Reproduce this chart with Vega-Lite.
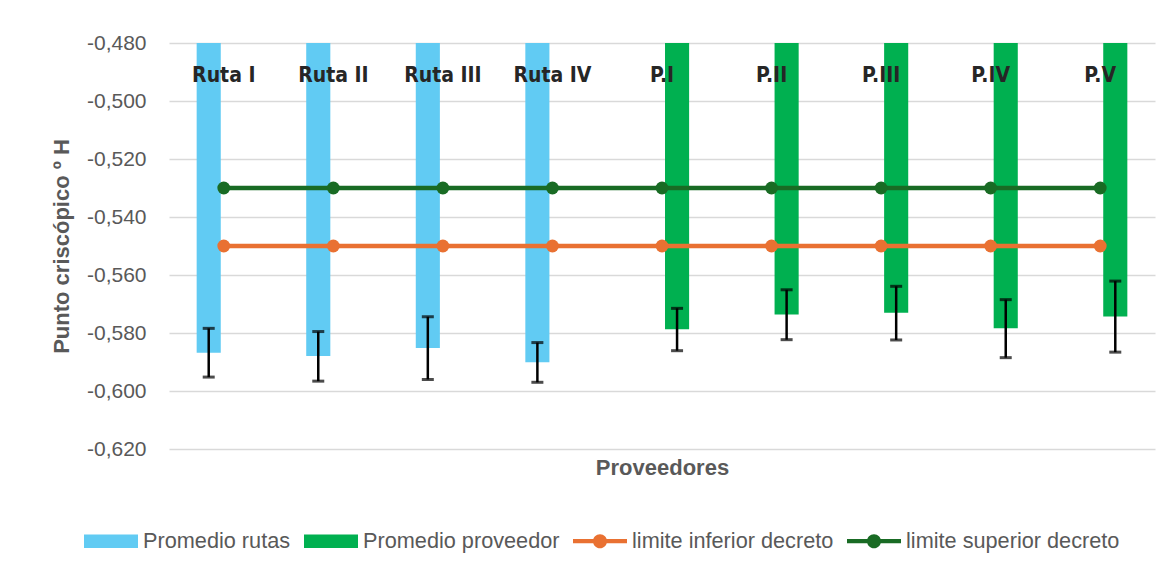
{
  "$schema": "https://vega.github.io/schema/vega-lite/v6.json",
  "width": 986,
  "height": 406,
  "padding": {"left": 50, "top": 32, "right": 5, "bottom": 5},
  "background": "white",
  "config": {
    "view": {"stroke": null},
    "font": "Liberation Sans",
    "axis": {"titleColor": "#595959", "labelColor": "#595959", "titleFont": "Liberation Sans", "labelFont": "Liberation Sans"}
  },
  "datasets": {
    "bars": [
      {"cat": "Ruta I", "serie": "Promedio rutas", "valor": -0.5868, "lo": -0.5952, "hi": -0.5784},
      {"cat": "Ruta II", "serie": "Promedio rutas", "valor": -0.5879, "lo": -0.5966, "hi": -0.5795},
      {"cat": "Ruta III", "serie": "Promedio rutas", "valor": -0.5852, "lo": -0.5960, "hi": -0.5744},
      {"cat": "Ruta IV", "serie": "Promedio rutas", "valor": -0.5901, "lo": -0.5970, "hi": -0.5833},
      {"cat": "P.I", "serie": "Promedio proveedor", "valor": -0.5787, "lo": -0.5861, "hi": -0.5715},
      {"cat": "P.II", "serie": "Promedio proveedor", "valor": -0.5736, "lo": -0.5823, "hi": -0.5651},
      {"cat": "P.III", "serie": "Promedio proveedor", "valor": -0.5730, "lo": -0.5824, "hi": -0.5639},
      {"cat": "P.IV", "serie": "Promedio proveedor", "valor": -0.5784, "lo": -0.5885, "hi": -0.5685},
      {"cat": "P.V", "serie": "Promedio proveedor", "valor": -0.5743, "lo": -0.5866, "hi": -0.5621}
    ],
    "lines": [
      {"cat": "Ruta I", "serie": "limite inferior decreto", "valor": -0.55},
      {"cat": "Ruta II", "serie": "limite inferior decreto", "valor": -0.55},
      {"cat": "Ruta III", "serie": "limite inferior decreto", "valor": -0.55},
      {"cat": "Ruta IV", "serie": "limite inferior decreto", "valor": -0.55},
      {"cat": "P.I", "serie": "limite inferior decreto", "valor": -0.55},
      {"cat": "P.II", "serie": "limite inferior decreto", "valor": -0.55},
      {"cat": "P.III", "serie": "limite inferior decreto", "valor": -0.55},
      {"cat": "P.IV", "serie": "limite inferior decreto", "valor": -0.55},
      {"cat": "P.V", "serie": "limite inferior decreto", "valor": -0.55},
      {"cat": "Ruta I", "serie": "limite superior decreto", "valor": -0.53},
      {"cat": "Ruta II", "serie": "limite superior decreto", "valor": -0.53},
      {"cat": "Ruta III", "serie": "limite superior decreto", "valor": -0.53},
      {"cat": "Ruta IV", "serie": "limite superior decreto", "valor": -0.53},
      {"cat": "P.I", "serie": "limite superior decreto", "valor": -0.53},
      {"cat": "P.II", "serie": "limite superior decreto", "valor": -0.53},
      {"cat": "P.III", "serie": "limite superior decreto", "valor": -0.53},
      {"cat": "P.IV", "serie": "limite superior decreto", "valor": -0.53},
      {"cat": "P.V", "serie": "limite superior decreto", "valor": -0.53}
    ]
  },
  "encoding": {
    "x": {
      "field": "cat", "type": "nominal",
      "scale": {"domain": ["Ruta I", "Ruta II", "Ruta III", "Ruta IV", "P.I", "P.II", "P.III", "P.IV", "P.V"], "paddingInner": 0.45, "paddingOuter": 0.225},
      "axis": {"title": "Proveedores", "labels": false, "ticks": false, "domain": false, "titleFontSize": 22, "titleFontWeight": "bold", "titlePadding": 8}
    }
  },
  "layer": [
    {
      "data": {"name": "bars"},
      "mark": {"type": "bar"},
      "encoding": {
        "xOffset": {"field": "serie", "type": "nominal", "scale": {"domain": ["Promedio rutas", "Promedio proveedor"], "paddingInner": 0.2, "paddingOuter": 0.1}},
        "y": {
          "field": "valor", "type": "quantitative",
          "scale": {"domain": [-0.62, -0.48], "nice": false, "zero": false},
          "axis": {
            "title": "Punto criscópico º H",
            "values": [-0.62, -0.6, -0.58, -0.56, -0.54, -0.52, -0.5, -0.48],
            "labelExpr": "replace(replace(format(datum.value, '.3f'), '.', ','), '\u2212', '-')",
            "domain": false, "ticks": false,
            "gridColor": "#D9D9D9", "gridWidth": 1.3,
            "labelFontSize": 21, "labelPadding": 23,
            "titleFontSize": 22, "titleFontWeight": "bold", "titlePadding": 13
          }
        },
        "y2": {"datum": -0.48},
        "color": {
          "field": "serie", "type": "nominal",
          "scale": {
            "domain": ["Promedio rutas", "Promedio proveedor", "limite inferior decreto", "limite superior decreto"],
            "range": ["#61CBF3", "#00B050", "#E97132", "#196B24"]
          },
          "legend": {
            "title": null,
            "orient": "none",
            "legendX": -85,
            "legendY": 471,
            "direction": "horizontal",
            "labelFontSize": 21.7,
            "labelColor": "#595959",
            "labelFont": "Liberation Sans",
            "labelOffset": 5,
            "labelLimit": 0,
            "columnPadding": 13,
            "symbolSize": 2916,
            "encode": {
              "symbols": {
                "update": {
                  "shape": {"signal": "indexof(['Promedio rutas','Promedio proveedor'], datum.value) >= 0 ? 'M-1,-0.25H1V0.25H-1Z' : 'M-1,-0.08H1V0.08H-1Z M-0.26,0A0.26,0.26 0 1,1 0.26,0A0.26,0.26 0 1,1 -0.26,0Z'"},
                  "fill": {"scale": "color", "field": "value"},
                  "strokeWidth": {"value": 0},
                  "opacity": {"value": 1},
                  "fillOpacity": {"value": 1}
                }
              }
            }
          }
        }
      }
    },
    {
      "data": {"name": "bars"},
      "mark": {"type": "rule", "color": "black", "strokeWidth": 2.5},
      "encoding": {
        "xOffset": {"field": "serie", "type": "nominal"},
        "y": {"field": "lo", "type": "quantitative"},
        "y2": {"field": "hi"}
      }
    },
    {
      "data": {"name": "bars"},
      "mark": {"type": "tick", "color": "black", "size": 12, "thickness": 3, "orient": "horizontal"},
      "encoding": {
        "xOffset": {"field": "serie", "type": "nominal"},
        "y": {"field": "lo", "type": "quantitative"}
      }
    },
    {
      "data": {"name": "bars"},
      "mark": {"type": "tick", "color": "black", "size": 12, "thickness": 3, "orient": "horizontal"},
      "encoding": {
        "xOffset": {"field": "serie", "type": "nominal"},
        "y": {"field": "hi", "type": "quantitative"}
      }
    },
    {
      "data": {"name": "lines"},
      "mark": {"type": "line", "strokeWidth": 4.5},
      "encoding": {
        "y": {"field": "valor", "type": "quantitative"},
        "color": {"field": "serie", "type": "nominal"}
      }
    },
    {
      "data": {"name": "lines"},
      "mark": {"type": "point", "filled": true, "size": 165, "opacity": 1},
      "encoding": {
        "y": {"field": "valor", "type": "quantitative"},
        "color": {"field": "serie", "type": "nominal"}
      }
    },
    {
      "data": {"name": "bars"},
      "mark": {"type": "text", "font": "DejaVu Sans Condensed", "fontWeight": "bold", "fontSize": 21, "color": "#262626", "baseline": "alphabetic", "align": "center"},
      "encoding": {
        "y": {"datum": -0.49345},
        "text": {"field": "cat"}
      }
    }
  ]
}
